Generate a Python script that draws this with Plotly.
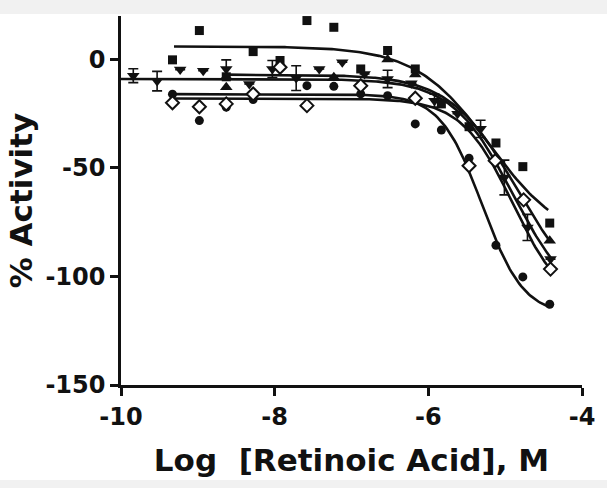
import numpy as np
import plotly.graph_objects as go

# ---- data ----
sq_x = [-9.33, -8.98, -8.63, -8.28, -7.93, -7.58, -7.23, -6.88, -6.53, -6.17, -5.83, -5.47, -5.12, -4.77, -4.42]
sq_y = [-0.2, 13.3, -8.0, 3.6, -0.5, 17.9, 14.8, -4.4, 4.1, -4.4, -20.5, -31.0, -38.5, -49.4, -75.4]

ci_x = [-9.33, -8.98, -8.63, -8.28, -7.58, -7.23, -6.88, -6.53, -6.17, -5.83, -5.47, -5.12, -4.77, -4.42]
ci_y = [-16.0, -28.2, -22.0, -18.5, -12.1, -12.4, -15.9, -16.7, -29.7, -32.5, -45.5, -85.6, -100.2, -112.8]

di_x = [-9.33, -8.98, -8.63, -8.28, -7.93, -7.58, -6.88, -6.17, -5.47, -5.13, -4.76, -4.41]
di_y = [-20.0, -21.8, -20.5, -15.9, -3.6, -21.3, -12.1, -17.9, -49.0, -46.7, -64.7, -96.6]

ut_x = [-8.63, -7.23, -6.53, -6.17, -4.42]
ut_y = [-12.8, -8.2, 0.0, -7.0, -83.6]

dt_x = [-9.84, -9.53, -9.23, -8.93, -8.63, -8.33, -8.03, -7.72, -7.42, -7.12, -6.83, -6.53, -6.22, -5.92, -5.62, -5.32, -5.01, -4.71, -4.41]
dt_y = [-7.5, -10.0, -4.7, -5.2, -4.4, -11.3, -4.4, -8.6, -4.4, -1.3, -6.7, -9.0, -11.0, -19.0, -25.0, -32.0, -54.4, -77.4, -92.0]
dt_err = [3.2, 4.5, 0, 0, 4.2, 0, 3.9, 5.7, 0, 0, 0, 4.0, 0, 3.0, 0, 4.0, 8.0, 6.0, 0]

# four-parameter fit parameters: (top, bottom, logEC50, hill, x_start, x_end)
fit_sq = (6, -85, -5.2, 0.9, -9.31, -4.44)
fit_ci = (-16, -118, -5.3, 1.6, -9.35, -4.42)
fit_di = (-18, -115, -4.9, 1.3, -9.35, -4.41)
fit_ut = (-7, -112, -4.85, 1.0, -8.63, -4.44)
fit_dt = (-9, -115, -4.9, 1.1, -10.0, -4.40)

x_ticks = [-10, -8, -6, -4]
x_tick_text = ["-10", "-8", "-6", "-4"]
y_ticks = [-150, -100, -50, 0]
y_tick_text = ["-150", "-100", "-50", "0"]


def curve(p):
    top, bot, ec, h, x0, x1 = p
    xs = np.linspace(x0, x1, 200)
    ys = bot + (top - bot) / (1 + 10 ** ((xs - ec) * h))
    return xs, ys


fig = go.Figure()
for p in [fit_sq, fit_ci, fit_di, fit_ut, fit_dt]:
    xs, ys = curve(p)
    fig.add_trace(go.Scatter(x=xs, y=ys, mode="lines",
                             line=dict(color="#111111", width=2.6),
                             showlegend=False, hoverinfo="skip"))

fig.add_trace(go.Scatter(
    x=dt_x, y=dt_y, mode="markers",
    marker=dict(symbol="triangle-down", size=11, color="#111111"),
    error_y=dict(type="data", array=dt_err, visible=True, color="#111111", thickness=1.6, width=5),
    showlegend=False))
fig.add_trace(go.Scatter(x=ut_x, y=ut_y, mode="markers",
                         marker=dict(symbol="triangle-up", size=11, color="#111111"), showlegend=False))
fig.add_trace(go.Scatter(x=ci_x, y=ci_y, mode="markers",
                         marker=dict(symbol="circle", size=9, color="#111111"), showlegend=False))
fig.add_trace(go.Scatter(x=sq_x, y=sq_y, mode="markers",
                         marker=dict(symbol="square", size=9, color="#111111"), showlegend=False))
fig.add_trace(go.Scatter(x=di_x, y=di_y, mode="markers",
                         marker=dict(symbol="diamond", size=10, color="white",
                                     line=dict(color="#111111", width=2)), showlegend=False))

FONT = "DejaVu Sans, Liberation Sans, Arial, sans-serif"
axis_font = dict(family=FONT, size=24, color="#111111", weight="bold")
title_font = dict(family=FONT, size=31, color="#111111", weight="bold")

PH = 488 - 16 - 103  # plot area height in px

fig.update_layout(
    width=607, height=488,
    margin=dict(l=121, r=17, t=16, b=103),
    paper_bgcolor="white", plot_bgcolor="white",
    xaxis=dict(range=[-10, -4], tickvals=x_ticks, ticktext=x_tick_text,
               showgrid=False, zeroline=False, showline=True, linecolor="#111111", linewidth=2.5,
               ticks="outside", ticklen=8, tickwidth=2.5, tickcolor="#111111",
               tickfont=axis_font,
               title=dict(text="Log  [Retinoic Acid], M", font=title_font, standoff=20)),
    yaxis=dict(range=[-150, 20], tickvals=y_ticks, ticktext=y_tick_text,
               showgrid=False, zeroline=False, showline=True, linecolor="#111111", linewidth=2.5,
               ticks="outside", ticklen=8, tickwidth=2.5, tickcolor="#111111",
               tickfont=axis_font,
               title=dict(text="% Activity", font=title_font, standoff=4)),
    shapes=[
        dict(type="rect", xref="paper", yref="paper", x0=-0.3, x1=1.1,
             y0=1 + 2 / PH, y1=1 + 16 / PH,
             fillcolor="#f1f1f1", line=dict(width=0), layer="below"),
        dict(type="rect", xref="paper", yref="paper", x0=-0.3, x1=1.1,
             y0=-103 / PH, y1=-95 / PH,
             fillcolor="#f1f1f1", line=dict(width=0), layer="below"),
    ],
)

fig.write_html("out.html", config={"displayModeBar": False},
               post_script="document.body.style.margin='0px';")
